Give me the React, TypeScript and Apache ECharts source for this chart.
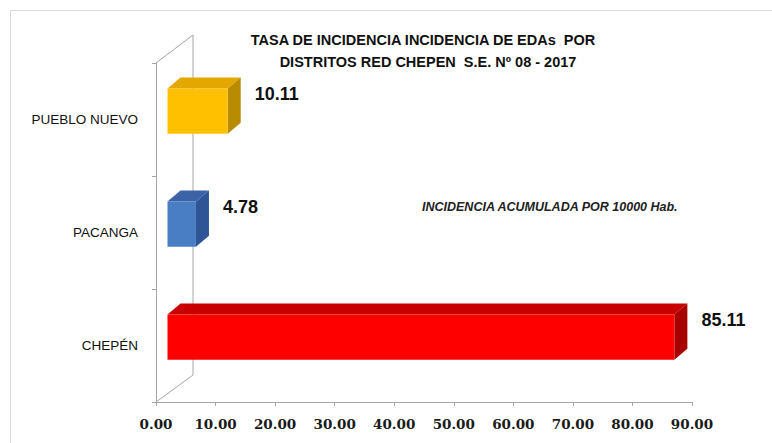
import React, { useEffect, useRef } from "react";
import * as echarts from "echarts";

const categories = ["CHEPÉN", "PACANGA", "PUEBLO NUEVO"];
const values = [85.11, 4.78, 10.11];
const xTicks = { min: 0, max: 90, interval: 10 };
const titleLines = [
  "TASA DE INCIDENCIA INCIDENCIA DE EDAs  POR",
  "DISTRITOS RED CHEPEN  S.E. Nº 08 - 2017",
];
const noteText = "INCIDENCIA ACUMULADA POR 10000 Hab.";

const frontColors = ["#FF0000", "#4A7EC4", "#FFC000"];
const topColors = ["#C80000", "#3A63A8", "#E3A700"];
const sideColors = ["#A80000", "#2E5596", "#B98B00"];

const GRAY = "#A6A6A6";

export default function App() {
  const ref = useRef<HTMLDivElement>(null);
  useEffect(() => {
    if (!ref.current) return;
    const chart = echarts.init(ref.current, undefined, { renderer: "svg" });
    const SHIFT = 11.5;
    const DX = 13;
    const DY = 11;
    const option: any = {
      animation: false,
      grid: { left: 156, right: 80, top: 63, bottom: 41 },
      xAxis: {
        type: "value",
        min: xTicks.min,
        max: xTicks.max,
        interval: xTicks.interval,
        axisLine: { show: true, lineStyle: { color: GRAY, width: 1 } },
        axisTick: { show: true, length: 4, lineStyle: { color: GRAY } },
        splitLine: { show: false },
        axisLabel: {
          formatter: (v: number) => v.toFixed(2),
          fontFamily: "DejaVu Serif",
          fontWeight: "bold",
          fontSize: 13.5,
          color: "#1a1a1a",
          margin: 15,
        },
      },
      yAxis: {
        type: "category",
        data: categories,
        axisLine: { show: true, lineStyle: { color: GRAY, width: 1 } },
        axisTick: { show: true, length: 4, lineStyle: { color: GRAY } },
        axisLabel: {
          fontFamily: "Liberation Sans",
          fontSize: 13.5,
          color: "#111",
          margin: 18,
        },
      },
      series: [
        {
          type: "custom",
          data: values.map((v, i) => [i, v]),
          encode: { x: 1, y: 0 },
          renderItem: (params: any, api: any) => {
            const cat = api.value(0);
            const val = api.value(1);
            const idx = params.dataIndex;
            const p0 = api.coord([0, cat]);
            const p1 = api.coord([val, cat]);
            const band = api.size([0, 1])[1];
            const h = band * 0.4;
            const cy = p0[1] - band * 0.075;
            const x0 = p0[0] + SHIFT;
            const x1 = p1[0] + SHIFT;
            const y0 = cy - h / 2;
            const y1 = cy + h / 2;
            return {
              type: "group",
              children: [
                {
                  type: "polygon",
                  shape: {
                    points: [
                      [x0, y0],
                      [x0 + DX, y0 - DY],
                      [x1 + DX, y0 - DY],
                      [x1, y0],
                    ],
                  },
                  style: { fill: topColors[idx] },
                },
                {
                  type: "polygon",
                  shape: {
                    points: [
                      [x1, y0],
                      [x1 + DX, y0 - DY],
                      [x1 + DX, y1 - DY],
                      [x1, y1],
                    ],
                  },
                  style: { fill: sideColors[idx] },
                },
                {
                  type: "rect",
                  shape: { x: x0, y: y0, width: x1 - x0, height: h },
                  style: { fill: frontColors[idx] },
                },
                {
                  type: "text",
                  x: x1 + DX + 14,
                  y: y0 + 6,
                  style: {
                    text: val.toFixed(2),
                    fill: "#111",
                    font: "bold 18px 'Liberation Sans', Arial, sans-serif",
                    textAlign: "left",
                    textVerticalAlign: "middle",
                  },
                },
              ],
            };
          },
        },
      ],
      graphic: [
        {
          type: "rect",
          shape: { x: 10.5, y: 10.5, width: 800, height: 500 },
          style: { fill: "none", stroke: "#D9D9D9", lineWidth: 1 },
          silent: true,
        },
        {
          type: "polyline",
          shape: { points: [[156, 63], [193, 35], [193, 375], [156, 402]] },
          style: { fill: "none", stroke: GRAY, lineWidth: 1 },
          silent: true,
          z: -1,
        },
        {
          type: "text",
          x: 423,
          y: 40,
          style: {
            text: titleLines[0],
            font: "bold 14.5px 'Liberation Sans', sans-serif",
            fill: "#111",
            textAlign: "center",
            textVerticalAlign: "middle",
          },
        },
        {
          type: "text",
          x: 428,
          y: 62,
          style: {
            text: titleLines[1],
            font: "bold 14.5px 'Liberation Sans', sans-serif",
            fill: "#111",
            textAlign: "center",
            textVerticalAlign: "middle",
          },
        },
        {
          type: "text",
          x: 422,
          y: 207,
          style: {
            text: noteText,
            font: "italic bold 12.5px 'Liberation Sans', sans-serif",
            fill: "#222",
            textAlign: "left",
            textVerticalAlign: "middle",
          },
        },
      ],
    };
    chart.setOption(option);
    return () => chart.dispose();
  }, []);
  return (
    <div
      ref={ref}
      style={{ position: "fixed", left: 0, top: 0, width: 772, height: 443, background: "#fff" }}
    />
  );
}
